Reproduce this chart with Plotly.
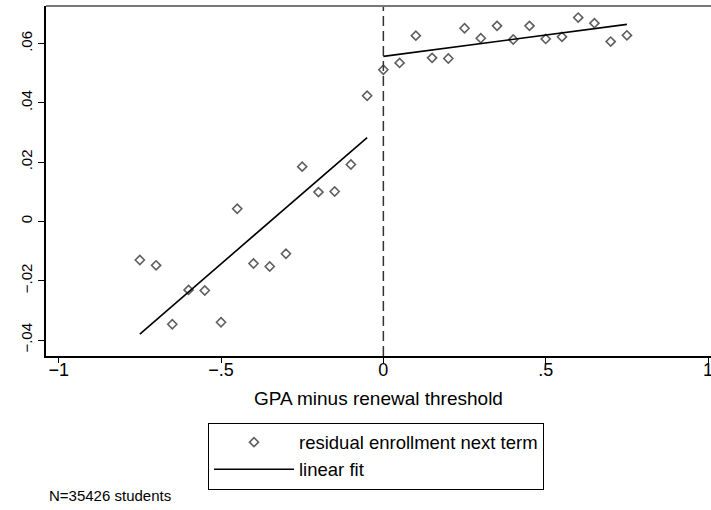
import plotly.graph_objects as go

# Data
bin_x = [-0.75, -0.70, -0.65, -0.60, -0.55, -0.50, -0.45, -0.40, -0.35, -0.30,
         -0.25, -0.20, -0.15, -0.10, -0.05,
         0.00, 0.05, 0.10, 0.15, 0.20, 0.25, 0.30, 0.35, 0.40, 0.45,
         0.50, 0.55, 0.60, 0.65, 0.70, 0.75]
resid_y = [-0.0130, -0.0148, -0.0347, -0.0231, -0.0233, -0.0340, 0.0043, -0.0142, -0.0152, -0.0109,
           0.0185, 0.0099, 0.0101, 0.0192, 0.0424,
           0.0512, 0.0535, 0.0627, 0.0552, 0.0550, 0.0652, 0.0618, 0.0660, 0.0614, 0.0660,
           0.0616, 0.0623, 0.0688, 0.0669, 0.0607, 0.0628]

fit_left_x = [-0.75, -0.05]
fit_left_y = [-0.0380, 0.0283]
fit_right_x = [0.00, 0.75]
fit_right_y = [0.0557, 0.0665]

x_tickvals = [-1, -0.5, 0, 0.5, 1]
x_ticktext = ["\u22121", "\u2212.5", "0", ".5", "1"]
y_tickvals = [-0.04, -0.02, 0, 0.02, 0.04, 0.06]
y_ticktext = ["\u2212.04", "\u2212.02", "0", ".02", ".04", ".06"]

FONT = "Liberation Sans, Arial, sans-serif"

fig = go.Figure()
fig.add_trace(go.Scatter(
    x=bin_x, y=resid_y, mode="markers", name="residual enrollment next term",
    marker=dict(symbol="diamond-open", size=7, color="#5f5f5f", line=dict(width=1.6, color="#5f5f5f")),
))
fig.add_trace(go.Scatter(
    x=fit_left_x, y=fit_left_y, mode="lines", name="linear fit",
    line=dict(color="black", width=1.6),
))
fig.add_trace(go.Scatter(
    x=fit_right_x, y=fit_right_y, mode="lines", name="linear fit", showlegend=False,
    line=dict(color="black", width=1.6),
))

# dashed cutoff line
fig.add_shape(type="line", xref="x", yref="paper", x0=0, x1=0, y0=0, y1=1,
              line=dict(color="#333333", width=1.5, dash="10px,5px"))
# top frame line
fig.add_shape(type="line", xref="paper", yref="paper", x0=0, x1=1, y0=1, y1=1,
              line=dict(color="#777777", width=2))

fig.update_layout(
    width=711, height=510,
    margin=dict(l=46, r=0, t=6, b=154, autoexpand=False),
    paper_bgcolor="white", plot_bgcolor="white",
    font=dict(family=FONT, color="black", size=14),
    showlegend=True,
    legend=dict(
        x=0.2436, y=-0.286, xanchor="left", yanchor="middle",
        bordercolor="black", borderwidth=1, bgcolor="white",
        font=dict(family=FONT, size=18.5), itemwidth=80,
        tracegroupgap=0,
    ),
    xaxis=dict(
        range=[-1.039, 1.009], tickvals=x_tickvals, ticktext=x_ticktext,
        showgrid=False, zeroline=False, showline=True, linecolor="black", linewidth=1.5,
        ticks="outside", ticklen=5, tickcolor="black", tickwidth=1,
        tickfont=dict(family=FONT, size=18), ticklabeloverflow="allow", automargin=False,
        ticklabelstandoff=-8,
        title=dict(text="GPA minus renewal threshold", font=dict(family=FONT, size=19), standoff=12),
    ),
    yaxis=dict(
        range=[-0.0454, 0.0727], tickvals=y_tickvals, ticktext=y_ticktext,
        showgrid=False, zeroline=False, showline=True, linecolor="black", linewidth=1.5,
        ticks="outside", ticklen=6, tickcolor="black", tickwidth=1, automargin=False,
        tickangle=-90, tickfont=dict(family=FONT, size=15),
    ),
    annotations=[dict(
        text="N=35426 students", xref="paper", yref="paper", x=0.002, y=-0.40,
        xanchor="left", yanchor="middle", showarrow=False,
        font=dict(family=FONT, size=15),
    )],
)

fig.write_html("out.html", config={"displayModeBar": False},
               post_script="document.body.style.margin='0';")
